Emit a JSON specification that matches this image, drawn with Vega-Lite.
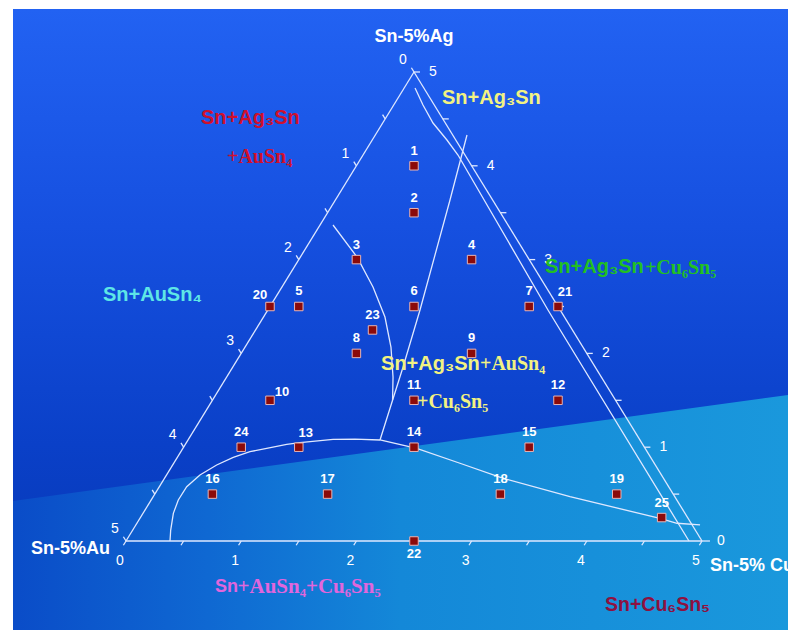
{
  "$schema": "https://vega.github.io/schema/vega-lite/v6.json",
  "width": 788,
  "height": 630,
  "autosize": {"type": "none"},
  "padding": 0,
  "background": "#ffffff",
  "config": {"view": {"stroke": null}},
  "encoding": {
    "x": {"field": "x", "type": "quantitative", "scale": {"domain": [-1.09375, 5.74653], "nice": false, "zero": false}, "axis": null},
    "y": {"field": "y", "type": "quantitative", "scale": {"domain": [-0.94883, 5.76759], "nice": false, "zero": false}, "axis": null}
  },
  "layer": [
    {
      "data": {"values": [{"x": -0.9809, "y": 5.67164, "x2": 5.74653, "y2": -0.94883}]},
      "mark": {"type": "rect", "color": {"gradient": "linear", "x1": 0, "y1": 0, "x2": 0, "y2": 1, "stops": [{"offset": 0, "color": "#2262f2"}, {"offset": 0.35, "color": "#1650e0"}, {"offset": 0.7, "color": "#0a40c8"}, {"offset": 1, "color": "#0636b0"}]}},
      "encoding": {"x2": {"field": "x2"}, "y2": {"field": "y2"}}
    },
    {
      "data": {"values": [{"x": -0.9809, "y": 0.42644, "y2": -0.94883}, {"x": 5.74653, "y": 1.5565, "y2": -0.94883}]},
      "mark": {"type": "area", "color": {"gradient": "linear", "x1": 0, "y1": 0, "x2": 1, "y2": 0, "stops": [{"offset": 0, "color": "#0a4cc8"}, {"offset": 0.25, "color": "#0f68d2"}, {"offset": 0.5, "color": "#1488d8"}, {"offset": 1, "color": "#1a98dc"}]}},
      "encoding": {"y2": {"field": "y2"}}
    },
    {
      "data": {"values": [
        {"x": 0, "y": 0, "x2": 2.5, "y2": 5},
        {"x": 2.5, "y": 5, "x2": 5, "y2": 0},
        {"x": 0, "y": 0, "x2": 5, "y2": 0},
        {"x": 2.5, "y": 5, "x2": 2.4773, "y2": 5.0454},
        {"x": 2.25, "y": 4.5, "x2": 2.2273, "y2": 4.5454},
        {"x": 2.0, "y": 4.0, "x2": 1.9773, "y2": 4.0454},
        {"x": 1.75, "y": 3.5, "x2": 1.7273, "y2": 3.5454},
        {"x": 1.5, "y": 3.0, "x2": 1.4773, "y2": 3.0454},
        {"x": 1.25, "y": 2.5, "x2": 1.2273, "y2": 2.5454},
        {"x": 1.0, "y": 2.0, "x2": 0.9773, "y2": 2.0454},
        {"x": 0.75, "y": 1.5, "x2": 0.7273, "y2": 1.5454},
        {"x": 0.5, "y": 1.0, "x2": 0.4773, "y2": 1.0454},
        {"x": 0.25, "y": 0.5, "x2": 0.2273, "y2": 0.5454},
        {"x": 0, "y": 0, "x2": -0.0227, "y2": 0.0454},
        {"x": 0, "y": 0, "x2": -0.0227, "y2": -0.0454},
        {"x": 0.5, "y": 0, "x2": 0.4773, "y2": -0.0454},
        {"x": 1.0, "y": 0, "x2": 0.9773, "y2": -0.0454},
        {"x": 1.5, "y": 0, "x2": 1.4773, "y2": -0.0454},
        {"x": 2.0, "y": 0, "x2": 1.9773, "y2": -0.0454},
        {"x": 2.5, "y": 0, "x2": 2.4773, "y2": -0.0454},
        {"x": 3.0, "y": 0, "x2": 2.9773, "y2": -0.0454},
        {"x": 3.5, "y": 0, "x2": 3.4773, "y2": -0.0454},
        {"x": 4.0, "y": 0, "x2": 3.9773, "y2": -0.0454},
        {"x": 4.5, "y": 0, "x2": 4.4773, "y2": -0.0454},
        {"x": 5.0, "y": 0, "x2": 4.9773, "y2": -0.0454},
        {"x": 5.0, "y": 0, "x2": 5.069, "y2": 0},
        {"x": 4.75, "y": 0.5, "x2": 4.802, "y2": 0.5},
        {"x": 4.5, "y": 1.0, "x2": 4.552, "y2": 1.0},
        {"x": 4.25, "y": 1.5, "x2": 4.302, "y2": 1.5},
        {"x": 4.0, "y": 2.0, "x2": 4.052, "y2": 2.0},
        {"x": 3.75, "y": 2.5, "x2": 3.802, "y2": 2.5},
        {"x": 3.5, "y": 3.0, "x2": 3.552, "y2": 3.0},
        {"x": 3.25, "y": 3.5, "x2": 3.302, "y2": 3.5},
        {"x": 3.0, "y": 4.0, "x2": 3.052, "y2": 4.0},
        {"x": 2.75, "y": 4.5, "x2": 2.802, "y2": 4.5},
        {"x": 2.5, "y": 5.0, "x2": 2.552, "y2": 5.0}
      ]},
      "mark": {"type": "rule", "color": "#dfe8ff", "strokeWidth": 1.3},
      "encoding": {"x2": {"field": "x2"}, "y2": {"field": "y2"}}
    },
    {
      "data": {"values": [
        {"id": "inner", "o": 0, "x": 2.509, "y": 4.829},
        {"id": "inner", "o": 1, "x": 2.578, "y": 4.648},
        {"id": "inner", "o": 2, "x": 2.665, "y": 4.456},
        {"id": "inner", "o": 3, "x": 2.786, "y": 4.275},
        {"id": "inner", "o": 4, "x": 2.882, "y": 4.115},
        {"id": "inner", "o": 5, "x": 3.663, "y": 2.463},
        {"id": "inner", "o": 6, "x": 4.887, "y": 0},
        {"id": "agau", "o": 0, "x": 2.96, "y": 4.328},
        {"id": "agau", "o": 1, "x": 2.8125, "y": 3.635},
        {"id": "agau", "o": 2, "x": 2.552, "y": 2.463},
        {"id": "agau", "o": 3, "x": 2.405, "y": 1.855},
        {"id": "agau", "o": 4, "x": 2.205, "y": 1.077},
        {"id": "left3", "o": 0, "x": 1.797, "y": 3.369},
        {"id": "left3", "o": 1, "x": 2.005, "y": 3.028},
        {"id": "left3", "o": 2, "x": 2.144, "y": 2.708},
        {"id": "left3", "o": 3, "x": 2.248, "y": 2.388},
        {"id": "left3", "o": 4, "x": 2.3, "y": 2.068},
        {"id": "left3", "o": 5, "x": 2.318, "y": 1.748},
        {"id": "left3", "o": 6, "x": 2.314, "y": 1.503},
        {"id": "bottom", "o": 0, "x": 0.382, "y": 0},
        {"id": "bottom", "o": 1, "x": 0.388, "y": 0.117},
        {"id": "bottom", "o": 2, "x": 0.411, "y": 0.295},
        {"id": "bottom", "o": 3, "x": 0.454, "y": 0.437},
        {"id": "bottom", "o": 4, "x": 0.527, "y": 0.579},
        {"id": "bottom", "o": 5, "x": 0.642, "y": 0.704},
        {"id": "bottom", "o": 6, "x": 0.787, "y": 0.81},
        {"id": "bottom", "o": 7, "x": 0.931, "y": 0.892},
        {"id": "bottom", "o": 8, "x": 1.076, "y": 0.952},
        {"id": "bottom", "o": 9, "x": 1.221, "y": 0.988},
        {"id": "bottom", "o": 10, "x": 1.395, "y": 1.031},
        {"id": "bottom", "o": 11, "x": 1.51, "y": 1.048},
        {"id": "bottom", "o": 12, "x": 1.797, "y": 1.084},
        {"id": "bottom", "o": 13, "x": 1.988, "y": 1.087},
        {"id": "bottom", "o": 14, "x": 2.205, "y": 1.077},
        {"id": "cu", "o": 0, "x": 2.205, "y": 1.077},
        {"id": "cu", "o": 1, "x": 2.523, "y": 0.988},
        {"id": "cu", "o": 2, "x": 2.899, "y": 0.829},
        {"id": "cu", "o": 3, "x": 3.275, "y": 0.668},
        {"id": "cu", "o": 4, "x": 3.854, "y": 0.472},
        {"id": "cu", "o": 5, "x": 4.635, "y": 0.242},
        {"id": "cu", "o": 6, "x": 4.783, "y": 0.189},
        {"id": "cu", "o": 7, "x": 4.983, "y": 0.171}
      ]},
      "mark": {"type": "line", "color": "#dfe8ff", "strokeWidth": 1.3},
      "encoding": {"detail": {"field": "id"}, "order": {"field": "o", "type": "quantitative"}}
    },
    {
      "data": {"values": [
        {"x": 2.5, "y": 5, "t": "0"}, {"x": 2.0, "y": 4, "t": "1"}, {"x": 1.5, "y": 3, "t": "2"},
        {"x": 1.0, "y": 2, "t": "3"}, {"x": 0.5, "y": 1, "t": "4"}, {"x": 0, "y": 0, "t": "5"}
      ]},
      "mark": {"type": "text", "color": "#ffffff", "font": "Liberation Sans", "fontSize": 14, "dx": -11, "dy": -12, "baseline": "middle", "align": "center"},
      "encoding": {"text": {"field": "t"}}
    },
    {
      "data": {"values": [
        {"x": 0, "y": 0, "t": "0"}, {"x": 1, "y": 0, "t": "1"}, {"x": 2, "y": 0, "t": "2"},
        {"x": 3, "y": 0, "t": "3"}, {"x": 4, "y": 0, "t": "4"}, {"x": 5, "y": 0, "t": "5"}
      ]},
      "mark": {"type": "text", "color": "#ffffff", "font": "Liberation Sans", "fontSize": 14, "dx": -6, "dy": 20, "baseline": "middle", "align": "center"},
      "encoding": {"text": {"field": "t"}}
    },
    {
      "data": {"values": [
        {"x": 5, "y": 0, "t": "0"}, {"x": 4.5, "y": 1, "t": "1"}, {"x": 4.0, "y": 2, "t": "2"},
        {"x": 3.5, "y": 3, "t": "3"}, {"x": 3.0, "y": 4, "t": "4"}, {"x": 2.5, "y": 5, "t": "5"}
      ]},
      "mark": {"type": "text", "color": "#ffffff", "font": "Liberation Sans", "fontSize": 14, "dx": 19, "dy": 0, "baseline": "middle", "align": "center"},
      "encoding": {"text": {"field": "t"}}
    },
    {
      "data": {"values": [{"x": 2.5, "y": 5.373, "t": "Sn-5%Ag"}]},
      "mark": {"type": "text", "color": "#ffffff", "font": "Liberation Sans", "fontWeight": "bold", "fontSize": 18, "baseline": "middle", "align": "center"},
      "encoding": {"text": {"field": "t"}}
    },
    {
      "data": {"values": [{"x": -0.139, "y": -0.08, "t": "Sn-5%Au"}]},
      "mark": {"type": "text", "color": "#ffffff", "font": "Liberation Sans", "fontWeight": "bold", "fontSize": 18, "baseline": "middle", "align": "right"},
      "encoding": {"text": {"field": "t"}}
    },
    {
      "data": {"values": [{"x": 5.069, "y": -0.2665, "t": "Sn-5% Cu"}]},
      "mark": {"type": "text", "color": "#ffffff", "font": "Liberation Sans", "fontWeight": "bold", "fontSize": 18, "baseline": "middle", "align": "left"},
      "encoding": {"text": {"field": "t"}}
    },
    {
      "data": {"values": [
        {"id": 1, "x": 2.5, "y": 4.0}, {"id": 2, "x": 2.5, "y": 3.5}, {"id": 3, "x": 2.0, "y": 3.0},
        {"id": 4, "x": 3.0, "y": 3.0}, {"id": 5, "x": 1.5, "y": 2.5}, {"id": 6, "x": 2.5, "y": 2.5},
        {"id": 7, "x": 3.5, "y": 2.5}, {"id": 8, "x": 2.0, "y": 2.0}, {"id": 9, "x": 3.0, "y": 2.0},
        {"id": 10, "x": 1.25, "y": 1.5}, {"id": 11, "x": 2.5, "y": 1.5}, {"id": 12, "x": 3.75, "y": 1.5},
        {"id": 13, "x": 1.5, "y": 1.0}, {"id": 14, "x": 2.5, "y": 1.0}, {"id": 15, "x": 3.5, "y": 1.0},
        {"id": 16, "x": 0.75, "y": 0.5}, {"id": 17, "x": 1.75, "y": 0.5}, {"id": 18, "x": 3.25, "y": 0.5},
        {"id": 19, "x": 4.26, "y": 0.5}, {"id": 20, "x": 1.25, "y": 2.5}, {"id": 21, "x": 3.75, "y": 2.5},
        {"id": 22, "x": 2.5, "y": 0.0}, {"id": 23, "x": 2.14, "y": 2.25}, {"id": 24, "x": 1.0, "y": 1.0},
        {"id": 25, "x": 4.65, "y": 0.25}
      ]},
      "layer": [
        {"mark": {"type": "point", "shape": "square", "size": 72, "filled": true, "fill": "#8b0a0a", "stroke": "#e8b4b4", "strokeWidth": 1, "opacity": 1}},
        {
          "transform": [{"filter": "indexof([10, 13, 20, 21, 22], datum.id) < 0"}],
          "mark": {"type": "text", "color": "#ffffff", "font": "Liberation Sans", "fontWeight": "bold", "fontSize": 13, "dy": -15, "baseline": "middle", "align": "center"},
          "encoding": {"text": {"field": "id"}}
        },
        {
          "transform": [{"filter": "datum.id == 10"}],
          "mark": {"type": "text", "color": "#ffffff", "font": "Liberation Sans", "fontWeight": "bold", "fontSize": 13, "dx": 12, "dy": -8, "baseline": "middle", "align": "center"},
          "encoding": {"text": {"field": "id"}}
        },
        {
          "transform": [{"filter": "datum.id == 13 || datum.id == 21"}],
          "mark": {"type": "text", "color": "#ffffff", "font": "Liberation Sans", "fontWeight": "bold", "fontSize": 13, "dx": 7, "dy": -14, "baseline": "middle", "align": "center"},
          "encoding": {"text": {"field": "id"}}
        },
        {
          "transform": [{"filter": "datum.id == 20"}],
          "mark": {"type": "text", "color": "#ffffff", "font": "Liberation Sans", "fontWeight": "bold", "fontSize": 13, "dx": -10, "dy": -11, "baseline": "middle", "align": "center"},
          "encoding": {"text": {"field": "id"}}
        },
        {
          "transform": [{"filter": "datum.id == 22"}],
          "mark": {"type": "text", "color": "#ffffff", "font": "Liberation Sans", "fontWeight": "bold", "fontSize": 13, "dy": 13, "baseline": "middle", "align": "center"},
          "encoding": {"text": {"field": "id"}}
        }
      ]
    },
    {
      "data": {"values": [{"x": 0.651, "y": 4.51, "t": "Sn+Ag₃Sn"}]},
      "mark": {"type": "text", "color": "#d0102c", "font": "Liberation Sans, DejaVu Sans", "fontWeight": "bold", "fontSize": 20, "baseline": "middle", "align": "left"},
      "encoding": {"text": {"field": "t"}}
    },
    {
      "data": {"values": [{"x": 0.877, "y": 4.094, "t": "+AuSn₄"}]},
      "mark": {"type": "text", "color": "#d0102c", "font": "Liberation Serif, DejaVu Serif", "fontWeight": "bold", "fontSize": 20, "baseline": "middle", "align": "left"},
      "encoding": {"text": {"field": "t"}}
    },
    {
      "data": {"values": [{"x": 2.743, "y": 4.723, "t": "Sn+Ag₃Sn"}]},
      "mark": {"type": "text", "color": "#f2f282", "font": "Liberation Sans, DejaVu Sans", "fontWeight": "bold", "fontSize": 20, "baseline": "middle", "align": "left"},
      "encoding": {"text": {"field": "t"}}
    },
    {
      "data": {"values": [{"x": -0.2, "y": 2.623, "t": "Sn+AuSn₄"}]},
      "mark": {"type": "text", "color": "#5ee6e6", "font": "Liberation Sans, DejaVu Sans", "fontWeight": "bold", "fontSize": 20, "baseline": "middle", "align": "left"},
      "encoding": {"text": {"field": "t"}}
    },
    {
      "data": {"values": [{"x": 3.637, "y": 2.921, "t": "Sn+Ag₃Sn"}]},
      "mark": {"type": "text", "color": "#22c022", "font": "Liberation Sans, DejaVu Sans", "fontWeight": "bold", "fontSize": 20, "baseline": "middle", "align": "left"},
      "encoding": {"text": {"field": "t"}}
    },
    {
      "data": {"values": [{"x": 4.505, "y": 2.91, "t": "+Cu₆Sn₅"}]},
      "mark": {"type": "text", "color": "#22c022", "font": "Liberation Serif, DejaVu Serif", "fontWeight": "bold", "fontSize": 20, "baseline": "middle", "align": "left"},
      "encoding": {"text": {"field": "t"}}
    },
    {
      "data": {"values": [{"x": 2.214, "y": 1.887, "t": "Sn+Ag₃Sn"}]},
      "mark": {"type": "text", "color": "#f2f282", "font": "Liberation Sans, DejaVu Sans", "fontWeight": "bold", "fontSize": 20, "baseline": "middle", "align": "left"},
      "encoding": {"text": {"field": "t"}}
    },
    {
      "data": {"values": [{"x": 3.073, "y": 1.887, "t": "+AuSn₄"}, {"x": 2.526, "y": 1.482, "t": "+Cu₆Sn₅"}]},
      "mark": {"type": "text", "color": "#f2f282", "font": "Liberation Serif, DejaVu Serif", "fontWeight": "bold", "fontSize": 20, "baseline": "middle", "align": "left"},
      "encoding": {"text": {"field": "t"}}
    },
    {
      "data": {"values": [{"x": 0.773, "y": -0.49, "t": "Sn"}]},
      "mark": {"type": "text", "color": "#e266dc", "font": "Liberation Sans, DejaVu Sans", "fontWeight": "bold", "fontSize": 18, "baseline": "middle", "align": "left"},
      "encoding": {"text": {"field": "t"}}
    },
    {
      "data": {"values": [{"x": 0.968, "y": -0.49, "t": "+AuSn₄+Cu₆Sn₅"}]},
      "mark": {"type": "text", "color": "#e266dc", "font": "Liberation Serif, DejaVu Serif", "fontWeight": "bold", "fontSize": 21, "baseline": "middle", "align": "left"},
      "encoding": {"text": {"field": "t"}}
    },
    {
      "data": {"values": [{"x": 4.158, "y": -0.682, "t": "Sn+Cu₆Sn₅"}]},
      "mark": {"type": "text", "color": "#8e1040", "font": "Liberation Sans, DejaVu Sans", "fontWeight": "bold", "fontSize": 19.5, "baseline": "middle", "align": "left"},
      "encoding": {"text": {"field": "t"}}
    }
  ]
}
